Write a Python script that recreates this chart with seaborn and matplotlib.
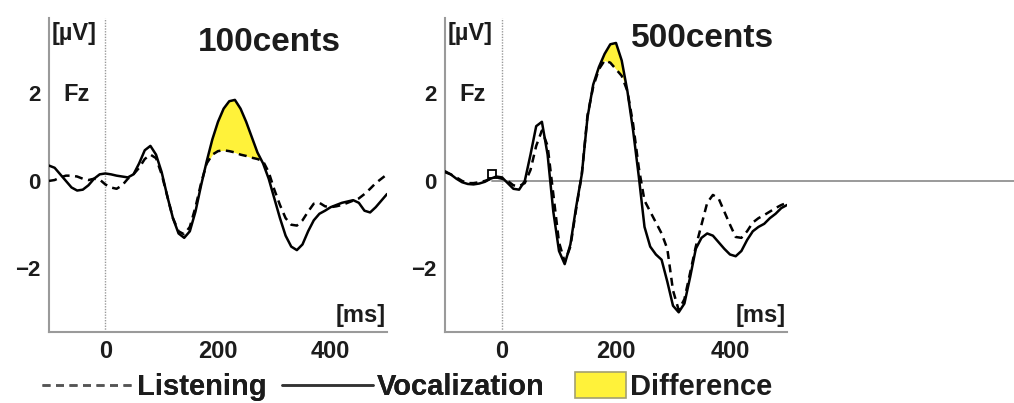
import numpy as np
import pandas as pd
import matplotlib
matplotlib.use("Agg")
import matplotlib.pyplot as plt
from matplotlib.lines import Line2D
from matplotlib.patches import Patch
import seaborn as sns

# ---------------- data ----------------
time_ms = list(range(-100, 501, 10))

# 100 cents panel
voc_100 = [0.35, 0.30, 0.15, 0.00, -0.15, -0.22, -0.20, -0.10, 0.05, 0.15,
           0.17, 0.15, 0.12, 0.10, 0.08, 0.15, 0.40, 0.70, 0.80, 0.60,
           0.20, -0.35, -0.85, -1.20, -1.30, -1.15, -0.70, -0.10, 0.45, 0.95,
           1.35, 1.65, 1.82, 1.85, 1.65, 1.35, 1.00, 0.65, 0.40, 0.05,
           -0.40, -0.85, -1.25, -1.50, -1.58, -1.45, -1.15, -0.90, -0.75, -0.68,
           -0.60, -0.55, -0.50, -0.47, -0.44, -0.50, -0.68, -0.72, -0.60, -0.45,
           -0.30]
lis_100 = [0.00, 0.02, 0.08, 0.12, 0.12, 0.10, 0.05, 0.02, 0.05, 0.03,
           -0.08, -0.15, -0.18, -0.10, 0.05, 0.15, 0.30, 0.50, 0.60, 0.52,
           0.15, -0.35, -0.85, -1.15, -1.22, -1.05, -0.60, -0.05, 0.40, 0.60,
           0.68, 0.70, 0.68, 0.65, 0.60, 0.57, 0.53, 0.50, 0.45, 0.20,
           -0.20, -0.55, -0.85, -1.00, -1.02, -0.90, -0.70, -0.52, -0.50, -0.58,
           -0.60, -0.58, -0.55, -0.50, -0.45, -0.40, -0.30, -0.18, -0.05, 0.05,
           0.15]

# 500 cents panel
voc_500 = [0.22, 0.15, 0.05, -0.03, -0.07, -0.08, -0.06, -0.02, 0.05, 0.10,
           0.08, -0.05, -0.18, -0.20, 0.00, 0.60, 1.25, 1.35, 0.60, -0.70,
           -1.60, -1.90, -1.45, -0.60, 0.15, 1.45, 2.20, 2.60, 2.90, 3.12,
           3.15, 2.75, 2.05, 1.15, 0.10, -1.05, -1.50, -1.68, -1.80, -2.30,
           -2.85, -3.00, -2.80, -2.20, -1.55, -1.30, -1.20, -1.25, -1.40, -1.55,
           -1.68, -1.72, -1.60, -1.35, -1.15, -1.05, -0.98, -0.85, -0.75, -0.62,
           -0.55]
lis_500 = [0.20, 0.15, 0.08, 0.00, -0.05, -0.05, -0.03, 0.00, 0.05, 0.08,
           0.05, 0.00, -0.10, -0.12, -0.05, 0.25, 0.80, 1.15, 0.80, -0.30,
           -1.40, -1.85, -1.50, -0.65, 0.15, 1.50, 2.15, 2.55, 2.75, 2.70,
           2.55, 2.40, 2.05, 1.30, 0.30, -0.45, -0.70, -0.95, -1.20, -1.55,
           -2.50, -2.95, -2.70, -2.10, -1.50, -1.00, -0.50, -0.32, -0.40, -0.70,
           -1.00, -1.28, -1.30, -1.15, -0.95, -0.85, -0.78, -0.70, -0.62, -0.55,
           -0.50]

panel_titles = ["100cents", "500cents"]
diff_windows = [(175, 285), (170, 220)]
marker_t, marker_v = -17, 0.15
x_tick_labels = ["", "0", "", "200", "", "400", ""]
y_tick_labels = ["", "\u22122", "", "0", "", "2", ""]

# ---------------- style ----------------
sns.set_theme(style="white")
plt.rcParams["font.family"] = ["Liberation Sans", "DejaVu Sans"]
plt.rcParams["font.weight"] = "bold"
TXT = "#1c1c1c"
GRAY = "#9a9a9a"
YELLOW = "#FFF23A"
DASH = (3.2, 2.2)

fig = plt.figure(figsize=(10.14, 4.03), dpi=100)
ax1 = fig.add_axes([49 / 1014, 71 / 403, 338 / 1014, 314 / 403])
ax2 = fig.add_axes([445 / 1014, 71 / 403, 342 / 1014, 314 / 403])

panels = [(ax1, voc_100, lis_100), (ax2, voc_500, lis_500)]

for i, (ax, voc, lis) in enumerate(panels):
    df = pd.DataFrame({
        "time": time_ms * 2,
        "amp": voc + lis,
        "cond": ["Vocalization"] * len(time_ms) + ["Listening"] * len(time_ms),
    })
    t = np.array(time_ms)
    v = np.array(voc)
    l = np.array(lis)
    w0, w1 = diff_windows[i]
    ax.fill_between(t, v, l, where=(v >= l) & (t >= w0) & (t <= w1),
                    interpolate=True, color=YELLOW, linewidth=0, zorder=1)
    sns.lineplot(data=df, x="time", y="amp", hue="cond", style="cond",
                 palette={"Vocalization": "black", "Listening": "black"},
                 dashes={"Vocalization": "", "Listening": DASH},
                 linewidth=1.8, legend=False, ax=ax, zorder=3)
    ax.axvline(0, color=GRAY, lw=1.0, ls=(0, (1, 1)), zorder=2)

    ax.set_xlim(-100, 500)
    ax.set_ylim(-3.45, 3.72)
    ax.set_xticks(range(-100, 501, 100))
    ax.set_xticklabels(x_tick_labels)
    ax.set_yticks(range(-3, 4))
    ax.set_yticklabels(y_tick_labels)
    ax.tick_params(direction="in", length=4, width=1, color=GRAY,
                   labelcolor=TXT, pad=6)
    for lab in ax.get_xticklabels():
        lab.set_fontsize(17); lab.set_fontweight("bold")
    for lab in ax.get_yticklabels():
        lab.set_fontsize(16); lab.set_fontweight("bold")
    ax.set_xlabel(""); ax.set_ylabel("")
    for s in ["top", "right"]:
        ax.spines[s].set_visible(False)
    for s in ["left", "bottom"]:
        ax.spines[s].set_color(GRAY)
        ax.spines[s].set_linewidth(1.5)

    ax.text(0.008, 0.952, "[\u00b5V]", transform=ax.transAxes, fontsize=17,
            fontweight="bold", color=TXT, ha="left", va="center")
    ax.text(-75, 1.98, "Fz", fontsize=17, fontweight="bold", color=TXT,
            ha="left", va="center")
    ax.text(498, -3.08, "[ms]", fontsize=17, fontweight="bold", color=TXT,
            ha="right", va="center")

ax1.text(292, 3.16, panel_titles[0], fontsize=24, fontweight="bold",
         color=TXT, ha="center", va="center")
ax2.text(352, 3.25, panel_titles[1], fontsize=24, fontweight="bold",
         color=TXT, ha="center", va="center")

# zero line in right panel (extends to figure edge) and small marker
ax2.axhline(0, xmin=(marker_t + 100) / 600, xmax=1.7, color=GRAY, lw=1.4,
            clip_on=False, zorder=2)
ax2.plot([marker_t], [marker_v], marker="s", mfc="none", mec="black",
         ms=6, mew=1.3, zorder=4)

# ---------------- legend ----------------
h_lines = [Line2D([], [], color="#555555", lw=1.8, ls=(0, DASH)),
           Line2D([], [], color="#333333", lw=1.8)]
leg1 = fig.legend(h_lines, ["Listening", "Vocalization"], loc="center left",
                  bbox_to_anchor=(42 / 1014, 0.04), ncol=2, frameon=False,
                  prop={"size": 21, "weight": "bold"}, handlelength=3.1,
                  handletextpad=0.15, columnspacing=0.55, borderpad=0,
                  borderaxespad=0)
for txt in leg1.get_texts():
    txt.set_color(TXT)
fig.add_artist(leg1)
leg2 = fig.legend([Patch(facecolor=YELLOW, edgecolor="#a3a070", lw=1.2)],
                  ["Difference"], loc="center left",
                  bbox_to_anchor=(575 / 1014, 0.04), frameon=False,
                  prop={"size": 21, "weight": "bold"}, handlelength=1.75,
                  handleheight=1.0, handletextpad=0.15, borderpad=0,
                  borderaxespad=0)
for txt in leg2.get_texts():
    txt.set_color(TXT)

fig.savefig("out.png", dpi=100)
